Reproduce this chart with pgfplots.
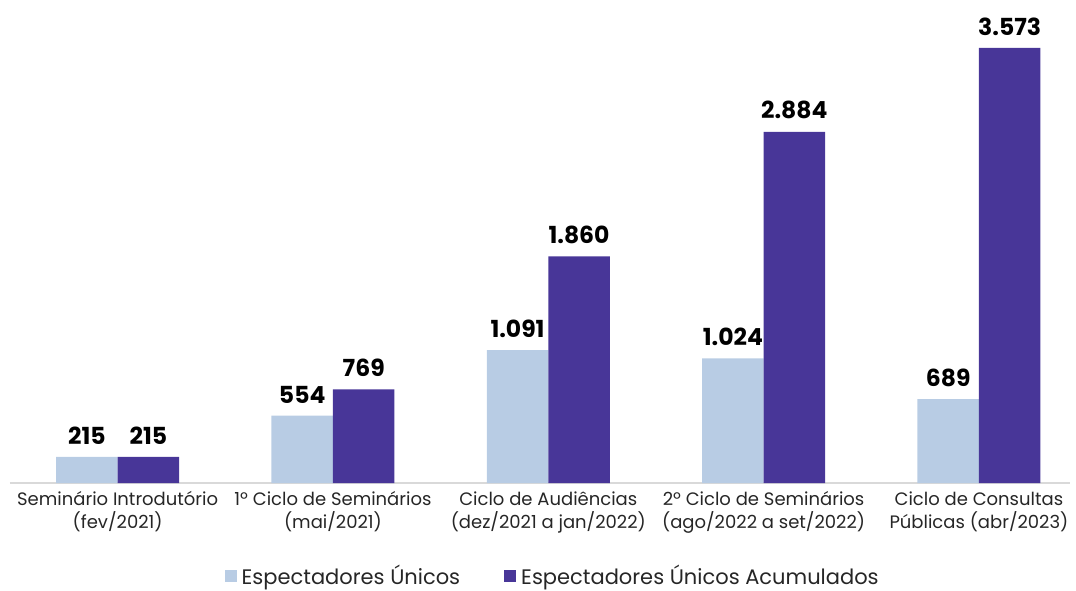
\documentclass[border=0pt]{standalone}
\usepackage{pgfplots}
\pgfplotsset{compat=1.18}
\usepackage{fontspec}
\setmainfont{Poppins}
\definecolor{lightbar}{HTML}{B8CCE4}
\definecolor{darkbar}{HTML}{483698}
\definecolor{axisgray}{HTML}{D9D9D9}
\begin{document}
\begin{tikzpicture}
\useasboundingbox (0,0) rectangle (1076pt,590pt);
\begin{axis}[
  at={(10pt,107pt)}, anchor=south west,
  scale only axis, width=1060pt, height=483pt,
  xmin=-0.5, xmax=4.423, ymin=0, ymax=3966,
  ybar=0pt, bar width=61.5pt,
  axis x line=bottom, axis y line=none,
  x axis line style={-, draw=axisgray, line width=2pt},
  xtick=data, major tick length=0pt,
  xticklabels={{Seminário Introdutório\\(fev/2021)},{1º Ciclo de Seminários\\(mai/2021)},{Ciclo de Audiências\\(dez/2021 a jan/2022)},{2º Ciclo de Seminários\\(ago/2022 a set/2022)},{Ciclo de Consultas\\Públicas (abr/2023)}},
  xticklabel style={align=center, font=\fontsize{18}{23}\selectfont, text=black!85, yshift=-5pt},
  nodes near coords={\pgfmathprintnumber[1000 sep={.}, assume math mode=true]{\pgfplotspointmeta}},
  nodes near coords style={font=\fontsize{23.5}{25}\selectfont\bfseries, text=black, yshift=9pt},
  legend columns=2,
  legend style={at={(0.512,-0.192)}, anchor=center, draw=none, fill=none,
    font=\fontsize{21}{24}\selectfont, text=black!85,
    /tikz/every odd column/.append style={column sep=3pt},
    /tikz/every even column/.append style={column sep=42pt}},
  legend image code/.code={\fill[#1] (0pt,-6pt) rectangle (12pt,6pt);},
]
\addplot[fill=lightbar, draw=none] coordinates {(0,215) (1,554) (2,1091) (3,1024) (4,689)};
\addplot[fill=darkbar, draw=none] coordinates {(0,215) (1,769) (2,1860) (3,2884) (4,3573)};
\legend{Espectadores Únicos, Espectadores Únicos Acumulados}
\end{axis}
\end{tikzpicture}
\end{document}
